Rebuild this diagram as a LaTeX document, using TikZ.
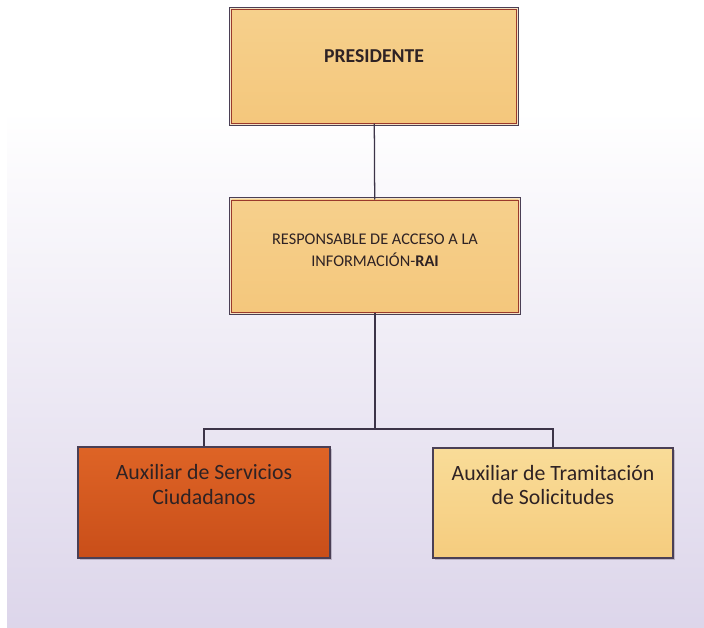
\documentclass[tikz,border=0pt]{standalone}
\usepackage{fontspec}
\setmainfont{Carlito}
\usepackage{xcolor}
\usetikzlibrary{positioning,calc,shadows}

\definecolor{bglav}{HTML}{DCD5EA}
\definecolor{rimdark}{HTML}{4A3F55}
\definecolor{rimpale}{HTML}{F3E2C4}
\definecolor{rimred}{HTML}{9A3A2C}
\definecolor{goldfill}{HTML}{F4C77C}
\definecolor{goldtop}{HTML}{F6D08C}
\definecolor{orangetop}{HTML}{DE6426}
\definecolor{orangebot}{HTML}{C94E19}
\definecolor{yellowtop}{HTML}{F9DC98}
\definecolor{yellowbot}{HTML}{F5CC7E}
\definecolor{textdark}{HTML}{2E2224}
\definecolor{linedark}{HTML}{3C3448}

\tikzset{
  chartbox/.style={rectangle, align=center, text=textdark, inner sep=2pt},
  topbox/.style={chartbox, top color=goldtop, bottom color=goldfill,
    preaction={draw=rimdark, line width=4.2pt},
    preaction={draw=rimpale, line width=2.8pt},
    draw=rimred, line width=0.7pt},
  auxbox/.style={chartbox, draw=rimdark, line width=0.9pt,
    drop shadow={shadow xshift=1.2pt, shadow yshift=-1.2pt, fill=rimdark, opacity=0.25}},
  link/.style={draw=linedark, line width=0.9pt}
}

\begin{document}
\begin{tikzpicture}[x=0.025cm, y=-0.025cm]
    \useasboundingbox (0,0) rectangle (704,627);
    \fill[white] (-5,-5) rectangle (710,110);
    \shade[top color=white, bottom color=bglav] (-5,110) rectangle (710,635);
    \fill[white] (-5,-5) rectangle (7,635); % margin

    \node[topbox, minimum width=7.1cm, minimum height=2.825cm, text depth=0.5cm,
      font=\bfseries\fontsize{14}{16}\selectfont] (pres) at (374,66.5) {PRESIDENTE};
    \node[topbox, minimum width=7.15cm, minimum height=2.8cm, text depth=0.3cm,
      font=\fontsize{11.6}{15.5}\selectfont] (rai) at (375,256)
      {RESPONSABLE DE ACCESO A LA\\INFORMACIÓN-\textbf{RAI}};

    \node[auxbox, top color=orangetop, bottom color=orangebot, minimum width=6.3cm,
      minimum height=2.775cm, text depth=0.9cm, font=\fontsize{15.5}{17.5}\selectfont]
      (servicios) at (204,502.5) {Auxiliar de Servicios\\Ciudadanos};
    \node[auxbox, top color=yellowtop, bottom color=yellowbot, minimum width=6cm,
      minimum height=2.75cm, text depth=0.9cm, font=\fontsize{15.5}{17.5}\selectfont]
      (tramite) at (553,503) {Auxiliar de Tramitación\\de Solicitudes};

    \coordinate (bus) at (375,429);
    \draw[link] (pres) -- (rai);
    \draw[link] (rai) -- (bus);
    \draw[link] (servicios.north) |- (bus) -| (tramite.north);
\end{tikzpicture}
\end{document}
